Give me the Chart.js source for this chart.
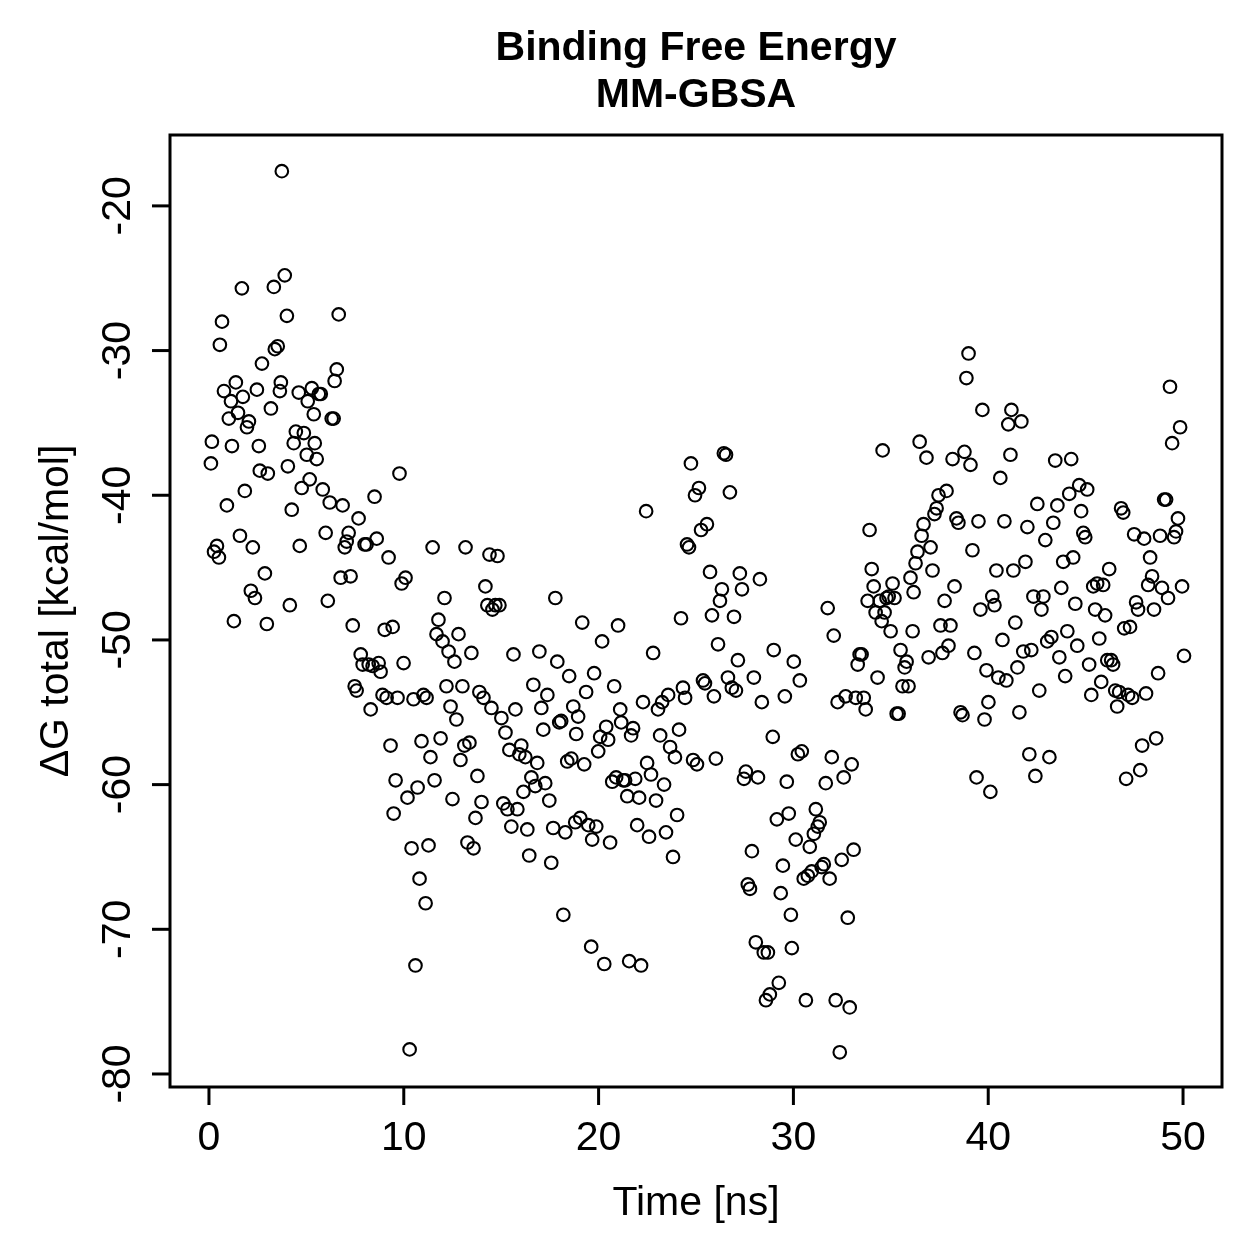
<!DOCTYPE html>
<html lang="en">
<head>
  <meta charset="UTF-8">
  <title>Binding Free Energy MM-GBSA</title>
  <script src="https://cdn.jsdelivr.net/npm/chart.js"></script>
  <style>
    body { margin: 0; background: #fff; }
    canvas { display: block; }
  </style>
</head>
<body>
  <canvas id="grafico" width="1259" height="1259"></canvas>

  <script>
    const titleLines = ["Binding Free Energy", "MM-GBSA"];
    const xLabel = "Time [ns]";
    const yLabel = "ΔG total [kcal/mol]";
    const xTicks = [0, 10, 20, 30, 40, 50];
    const yTicks = [-80, -70, -60, -50, -40, -30, -20];

    // tiempo de simulación (ns)
    const timeNs = [
      0.10,0.15,0.26,0.41,0.51,0.56,0.67,0.77,0.92,1.02,
      1.13,1.18,1.28,1.38,1.49,1.59,1.69,1.74,1.84,1.95,
      2.05,2.15,2.25,2.36,2.46,2.56,2.61,2.72,2.87,2.97,
      3.02,3.18,3.33,3.38,3.53,3.64,3.69,3.74,3.89,4.00,
      4.05,4.15,4.25,4.35,4.46,4.61,4.66,4.76,4.87,5.02,
      5.07,5.17,5.28,5.38,5.43,5.53,5.64,5.74,5.84,5.99,
      6.10,6.20,6.30,6.40,6.45,6.56,6.66,6.76,6.86,6.97,
      7.07,7.17,7.27,7.38,7.48,7.58,7.68,7.79,7.89,7.99,
      8.09,8.20,8.30,8.40,8.50,8.61,8.71,8.81,8.91,9.02,
      9.12,9.22,9.32,9.43,9.48,9.58,9.68,9.78,9.89,9.99,
      10.09,10.19,10.30,10.40,10.50,10.60,10.71,10.81,10.91,11.01,
      11.12,11.17,11.27,11.37,11.48,11.58,11.68,11.78,11.89,11.99,
      12.09,12.19,12.30,12.40,12.50,12.60,12.70,12.81,12.91,13.01,
      13.11,13.17,13.27,13.37,13.47,13.58,13.68,13.78,13.88,13.99,
      14.09,14.19,14.29,14.40,14.50,14.55,14.70,14.81,14.91,15.01,
      15.11,15.22,15.32,15.42,15.52,15.63,15.73,15.83,15.93,16.03,
      16.14,16.24,16.34,16.44,16.55,16.65,16.75,16.85,16.96,17.06,
      17.16,17.26,17.37,17.47,17.57,17.67,17.78,17.88,17.98,18.08,
      18.19,18.29,18.39,18.49,18.60,18.70,18.80,18.85,18.95,19.06,
      19.16,19.26,19.36,19.47,19.62,19.67,19.77,19.88,19.98,20.08,
      20.18,20.29,20.39,20.49,20.59,20.70,20.80,20.90,21.00,21.11,
      21.16,21.26,21.36,21.47,21.57,21.67,21.77,21.88,21.98,22.08,
      22.18,22.28,22.44,22.49,22.59,22.69,22.80,22.95,23.05,23.16,
      23.26,23.36,23.46,23.57,23.67,23.82,23.92,24.03,24.13,24.23,
      24.33,24.44,24.54,24.64,24.74,24.85,24.95,25.05,25.15,25.26,
      25.36,25.46,25.56,25.72,25.82,25.92,26.02,26.13,26.23,26.33,
      26.43,26.54,26.64,26.74,26.84,26.95,27.05,27.15,27.25,27.36,
      27.46,27.56,27.66,27.77,27.87,27.97,28.07,28.18,28.28,28.38,
      28.48,28.59,28.69,28.79,28.94,28.99,29.15,29.25,29.35,29.46,
      29.56,29.66,29.76,29.87,29.92,30.02,30.12,30.23,30.33,30.43,
      30.53,30.64,30.74,30.84,30.94,31.05,31.15,31.25,31.35,31.45,
      31.56,31.66,31.76,31.86,31.97,32.07,32.17,32.27,32.38,32.48,
      32.58,32.68,32.79,32.89,32.99,33.09,33.20,33.30,33.40,33.50,
      33.61,33.71,33.81,33.91,34.02,34.12,34.22,34.32,34.43,34.53,
      34.58,34.68,34.78,34.89,34.99,35.09,35.19,35.30,35.40,35.50,
      35.60,35.71,35.81,35.91,36.01,36.12,36.17,36.27,36.37,36.48,
      36.58,36.68,36.83,36.94,37.04,37.14,37.24,37.35,37.45,37.55,
      37.65,37.76,37.86,37.96,38.06,38.17,38.27,38.37,38.47,38.58,
      38.68,38.78,38.88,38.99,39.09,39.19,39.29,39.40,39.50,39.60,
      39.70,39.81,39.91,40.01,40.11,40.21,40.32,40.42,40.52,40.62,
      40.73,40.83,40.93,41.03,41.14,41.19,41.29,41.39,41.50,41.60,
      41.70,41.80,41.91,42.01,42.11,42.21,42.32,42.42,42.52,42.62,
      42.73,42.83,42.93,43.03,43.14,43.24,43.34,43.44,43.55,43.65,
      43.75,43.85,43.95,44.06,44.16,44.26,44.36,44.47,44.57,44.67,
      44.77,44.88,44.98,45.08,45.18,45.29,45.39,45.49,45.59,45.70,
      45.80,45.90,46.00,46.11,46.21,46.31,46.41,46.52,46.62,46.72,
      46.82,46.93,46.98,47.08,47.18,47.28,47.39,47.49,47.59,47.69,
      47.80,47.90,48.00,48.10,48.21,48.31,48.41,48.51,48.62,48.72,
      48.82,48.92,49.03,49.13,49.23,49.33,49.44,49.54,49.64,49.74,
      49.85,49.95,50.05
    ];

    // ΔG total (kcal/mol)
    const deltaG = [
      -37.8,-36.3,-43.9,-43.5,-44.3,-29.6,-28.0,-32.8,-40.7,-34.7,
      -33.5,-36.6,-48.7,-32.2,-34.3,-42.8,-25.7,-33.2,-39.7,-35.3,
      -34.9,-46.6,-43.6,-47.1,-32.7,-36.6,-38.3,-30.9,-45.4,-48.9,
      -38.5,-34.0,-25.6,-29.9,-29.7,-32.8,-32.2,-17.6,-24.8,-27.6,
      -38.0,-47.6,-41.0,-36.4,-35.6,-32.9,-43.5,-39.5,-35.7,-37.2,
      -33.5,-38.9,-32.6,-34.4,-36.4,-37.5,-33.0,-33.0,-39.6,-42.6,
      -47.3,-40.5,-34.7,-34.7,-32.1,-31.3,-27.5,-45.7,-40.7,-43.6,
      -43.2,-42.6,-45.6,-49.0,-53.2,-53.5,-41.6,-51.0,-51.7,-43.4,
      -43.4,-51.7,-54.8,-51.8,-40.1,-43.0,-51.6,-52.2,-53.8,-49.3,
      -54.0,-44.3,-57.3,-49.1,-62.0,-59.7,-54.0,-38.5,-46.1,-51.6,
      -45.7,-60.9,-78.3,-64.4,-54.1,-72.5,-60.2,-66.5,-57.0,-53.8,
      -68.2,-54.0,-64.2,-58.1,-43.6,-59.7,-49.6,-48.6,-56.8,-50.1,
      -47.1,-53.2,-50.8,-54.6,-61.0,-51.5,-55.5,-49.6,-58.3,-53.2,
      -57.3,-43.6,-64.0,-57.1,-50.9,-64.4,-62.3,-59.4,-53.6,-61.2,
      -54.0,-46.3,-47.6,-44.1,-54.7,-47.9,-47.6,-44.2,-47.6,-55.4,
      -61.3,-56.4,-61.7,-57.6,-62.9,-51.0,-54.8,-61.7,-57.9,-57.3,
      -60.5,-58.1,-63.1,-64.9,-59.5,-53.1,-60.1,-58.5,-50.8,-54.7,
      -56.2,-59.9,-53.8,-61.1,-65.4,-63.0,-47.1,-51.5,-55.7,-55.6,
      -69.0,-63.3,-58.4,-52.5,-58.2,-54.6,-62.6,-56.5,-55.3,-62.3,
      -48.8,-58.6,-53.6,-62.8,-71.2,-63.8,-52.3,-62.9,-57.7,-56.7,
      -50.1,-72.4,-56.0,-56.9,-64.0,-59.8,-53.2,-59.5,-49.0,-54.8,
      -55.7,-59.7,-59.7,-60.8,-72.2,-56.6,-56.1,-59.6,-62.8,-60.9,
      -72.5,-54.3,-41.1,-58.5,-63.6,-59.3,-50.9,-61.1,-54.8,-56.6,
      -54.3,-60.0,-63.3,-53.8,-57.4,-65.0,-58.1,-62.1,-56.2,-48.5,
      -53.3,-54.0,-43.4,-43.6,-37.8,-58.3,-40.0,-58.6,-39.5,-42.4,
      -52.8,-53.0,-42.0,-45.3,-48.3,-53.9,-58.2,-50.3,-47.3,-46.5,
      -37.1,-37.2,-52.6,-39.8,-53.3,-48.4,-53.5,-51.4,-45.4,-46.5,
      -59.6,-59.1,-66.9,-67.2,-64.6,-52.6,-70.9,-59.5,-45.8,-54.3,
      -71.6,-74.9,-71.6,-74.5,-56.7,-50.7,-62.4,-73.7,-67.5,-65.6,
      -53.9,-59.8,-62.0,-69.0,-71.3,-51.5,-63.8,-57.9,-52.8,-57.7,
      -66.5,-74.9,-66.3,-64.3,-66.0,-63.4,-61.7,-62.9,-62.6,-65.7,
      -65.5,-59.9,-47.8,-66.5,-58.1,-49.7,-74.9,-54.3,-78.5,-65.2,
      -59.5,-53.9,-69.2,-75.4,-58.6,-64.5,-54.0,-51.7,-51.0,-51.0,
      -54.0,-54.8,-47.3,-42.4,-45.1,-46.3,-48.1,-52.6,-47.3,-48.7,
      -36.9,-48.1,-47.1,-47.0,-49.4,-46.1,-47.1,-55.1,-55.1,-50.7,
      -53.2,-51.9,-51.5,-53.2,-45.7,-49.4,-46.7,-44.7,-43.9,-36.3,
      -42.8,-42.0,-37.4,-51.2,-43.6,-45.2,-41.3,-40.9,-40.0,-49.0,
      -50.9,-47.3,-39.7,-50.4,-49.0,-37.5,-46.3,-41.6,-41.9,-55.0,
      -55.2,-37.0,-31.9,-30.2,-37.9,-43.8,-50.9,-59.5,-41.8,-47.9,
      -34.1,-55.5,-52.1,-54.3,-60.5,-47.0,-47.6,-45.2,-52.6,-38.8,
      -50.0,-41.8,-52.8,-35.1,-37.2,-34.1,-45.2,-48.8,-51.9,-55.0,
      -34.9,-50.8,-44.6,-42.2,-57.9,-50.7,-47.0,-59.4,-40.6,-53.5,
      -47.9,-47.0,-43.1,-50.1,-58.1,-49.8,-41.9,-37.6,-40.7,-51.2,
      -46.4,-44.6,-52.5,-49.4,-39.9,-37.5,-44.3,-47.5,-50.4,-39.3,
      -41.1,-42.6,-42.9,-39.6,-51.7,-53.8,-46.3,-47.9,-46.1,-49.9,
      -52.9,-46.2,-48.3,-51.4,-45.1,-51.4,-51.7,-53.5,-54.6,-53.6,
      -40.9,-41.2,-49.2,-59.6,-53.8,-49.1,-54.0,-42.7,-47.4,-47.9,
      -59.0,-57.3,-43.0,-53.7,-46.2,-44.3,-45.6,-47.9,-56.8,-52.3,
      -42.8,-46.4,-40.3,-40.3,-47.1,-32.5,-36.4,-42.9,-42.5,-41.6,
      -35.3,-46.3,-51.1
    ];

    const FONT = '"Liberation Sans", Arial, Helvetica, sans-serif';

    // ejes al estilo de R: caja, marcas, etiquetas giradas
    const ejesR = {
      id: 'ejesR',
      afterDraw(chart) {
        const ctx = chart.ctx;
        const area = chart.chartArea;
        const sx = chart.scales.x;
        const sy = chart.scales.y;
        ctx.save();
        ctx.strokeStyle = '#000';
        ctx.fillStyle = '#000';
        ctx.lineWidth = 3;
        ctx.strokeRect(area.left, area.top, area.right - area.left, area.bottom - area.top);

        ctx.font = '41px ' + FONT;
        ctx.textAlign = 'center';
        ctx.textBaseline = 'alphabetic';
        xTicks.forEach(v => {
          const px = sx.getPixelForValue(v);
          ctx.beginPath();
          ctx.moveTo(px, area.bottom);
          ctx.lineTo(px, area.bottom + 18);
          ctx.stroke();
          ctx.fillText(String(v), px, area.bottom + 63);
        });
        yTicks.forEach(v => {
          const py = sy.getPixelForValue(v);
          ctx.beginPath();
          ctx.moveTo(area.left, py);
          ctx.lineTo(area.left - 18, py);
          ctx.stroke();
          ctx.save();
          ctx.translate(area.left - 40, py);
          ctx.rotate(-Math.PI / 2);
          ctx.fillText(String(v), 0, 0);
          ctx.restore();
        });

        const cx = (area.left + area.right) / 2;
        const cy = (area.top + area.bottom) / 2;
        ctx.fillText(xLabel, cx, area.bottom + 128);
        ctx.save();
        ctx.translate(area.left - 102, cy);
        ctx.rotate(-Math.PI / 2);
        ctx.fillText(yLabel, 0, 0);
        ctx.restore();

        ctx.font = 'bold 41px ' + FONT;
        ctx.fillText(titleLines[0], cx, 60);
        ctx.fillText(titleLines[1], cx, 107);
        ctx.restore();
      }
    };

    const puntos = timeNs.map((t, i) => ({ x: t, y: deltaG[i] }));

    new Chart(document.getElementById('grafico').getContext('2d'), {
      type: 'scatter',
      data: {
        datasets: [{
          data: puntos,
          pointStyle: 'circle',
          pointRadius: 6.3,
          pointHoverRadius: 6.3,
          borderWidth: 2.1,
          pointBorderWidth: 2.1,
          borderColor: '#000',
          pointBorderColor: '#000',
          backgroundColor: 'rgba(0,0,0,0)',
          pointBackgroundColor: 'rgba(0,0,0,0)'
        }]
      },
      options: {
        responsive: false,
        animation: false,
        events: [],
        layout: { padding: { left: 170, right: 37, top: 135, bottom: 172 } },
        plugins: { legend: { display: false }, tooltip: { enabled: false } },
        scales: {
          x: { type: 'linear', min: -2, max: 52, display: false },
          y: { type: 'linear', min: -80.9, max: -15.1, display: false }
        }
      },
      plugins: [ejesR]
    });
  </script>
</body>
</html>
